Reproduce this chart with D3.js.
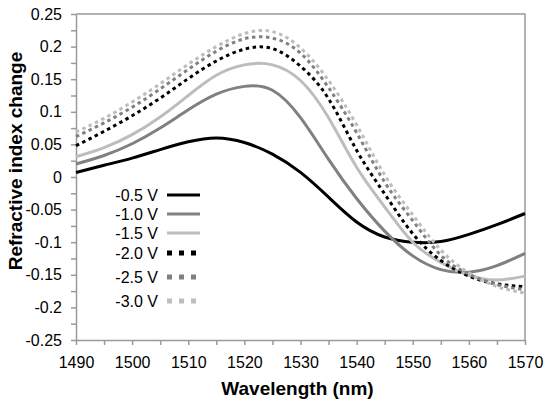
<!DOCTYPE html>
<html>
<head>
<meta charset="utf-8">
<script src="https://cdn.jsdelivr.net/npm/d3@7"></script>
<style>
  html, body { margin: 0; padding: 0; background: #fff; overflow: hidden; }
  svg { display: block; font-family: "Liberation Sans", Arial, sans-serif; }
</style>
</head>
<body>
<div class="div-chart"></div>
<script>
// wavelength grid (nm)
const wavelengths = [1490, 1495, 1500, 1505, 1510, 1515, 1520, 1525, 1530, 1535, 1540, 1545, 1550, 1555, 1560, 1565, 1570];

// refractive index change per bias voltage
const v05 = [0.007, 0.018, 0.029, 0.042, 0.054, 0.060, 0.053, 0.035, 0.007, -0.031, -0.069, -0.092, -0.100, -0.099, -0.088, -0.073, -0.056];
const v10 = [0.020, 0.033, 0.051, 0.075, 0.103, 0.127, 0.139, 0.133, 0.091, 0.027, -0.033, -0.083, -0.121, -0.142, -0.146, -0.136, -0.117];
const v15 = [0.031, 0.045, 0.065, 0.092, 0.125, 0.156, 0.172, 0.172, 0.148, 0.091, 0.015, -0.046, -0.100, -0.131, -0.151, -0.158, -0.152];
const v20 = [0.048, 0.070, 0.094, 0.121, 0.151, 0.178, 0.196, 0.197, 0.170, 0.120, 0.041, -0.026, -0.087, -0.128, -0.152, -0.164, -0.168];
const v25 = [0.062, 0.083, 0.107, 0.135, 0.165, 0.193, 0.212, 0.213, 0.190, 0.137, 0.068, -0.008, -0.067, -0.120, -0.149, -0.165, -0.173];
const v30 = [0.069, 0.090, 0.115, 0.143, 0.173, 0.200, 0.220, 0.223, 0.198, 0.148, 0.080, 0.003, -0.058, -0.112, -0.147, -0.168, -0.178];

const seriesNames = ["-0.5 V", "-1.0 V", "-1.5 V", "-2.0 V", "-2.5 V", "-3.0 V"];
const seriesValues = [v05, v10, v15, v20, v25, v30];
const seriesColors = ["#000000", "#808080", "#bdbdbd", "#000000", "#808080", "#bdbdbd"];
const seriesDotted = [false, false, false, true, true, true];

const xTicks = [1490, 1500, 1510, 1520, 1530, 1540, 1550, 1560, 1570];
const yTicks = [0.25, 0.2, 0.15, 0.1, 0.05, 0, -0.05, -0.1, -0.15, -0.2, -0.25];

const width = 546, height = 408;
const margin = {top: 14, right: 21, bottom: 68, left: 76};
const innerWidth = width - margin.left - margin.right;
const innerHeight = height - margin.top - margin.bottom;

const svg = d3.select('.div-chart')
    .append('svg')
    .attr('width', width)
    .attr('height', height);

const g = svg.append('g')
    .attr('transform', `translate(${margin.left},${margin.top})`);

const xScale = d3.scaleLinear().domain([1490, 1570]).range([0, innerWidth]);
const yScale = d3.scaleLinear().domain([-0.25, 0.25]).range([innerHeight, 0]);

const axisColor = '#9a9a9a';

// frame (top + right)
g.append('path')
    .attr('d', `M0,0H${innerWidth}V${innerHeight}`)
    .attr('fill', 'none')
    .attr('stroke', axisColor)
    .attr('stroke-width', 1.5);

// minor ticks
const xMinor = xTicks.slice(0, -1).map(d => d + 5);
const yMinor = yTicks.slice(0, -1).map(d => +(d - 0.025).toFixed(3));

g.append('g')
    .attr('transform', `translate(0,${innerHeight})`)
    .call(d3.axisBottom(xScale).tickValues(xMinor).tickSize(5).tickFormat(''))
    .call(a => a.select('.domain').remove());
g.append('g')
    .call(d3.axisLeft(yScale).tickValues(yMinor).tickSize(5).tickFormat(''))
    .call(a => a.select('.domain').remove());

// x axis
g.append('g')
    .attr('transform', `translate(0,${innerHeight})`)
    .call(d3.axisBottom(xScale).tickValues(xTicks).tickSize(5).tickSizeOuter(0).tickPadding(12).tickFormat(d => String(d)));

// y axis
g.append('g')
    .call(d3.axisLeft(yScale).tickValues(yTicks).tickSize(5).tickSizeOuter(0).tickPadding(9).tickFormat(d => String(+d.toFixed(2))));

g.selectAll('.tick line, .domain')
    .attr('stroke', axisColor)
    .attr('stroke-width', 1.5);
g.selectAll('.tick text')
    .attr('font-size', 16)
    .attr('font-family', '"Liberation Sans", Arial, sans-serif')
    .attr('fill', '#000');

// curves
const line = d3.line()
    .x((d, i) => xScale(wavelengths[i]))
    .y(d => yScale(d))
    .curve(d3.curveNatural);

g.selectAll('.curve')
    .data(seriesValues)
    .enter().append('path')
    .attr('class', 'curve')
    .attr('d', d => line(d))
    .attr('fill', 'none')
    .attr('stroke', (d, i) => seriesColors[i])
    .attr('stroke-width', 3)
    .attr('stroke-dasharray', (d, i) => seriesDotted[i] ? '3.5,3.5' : null);

// legend
const legendY = [195, 214, 233, 253, 277, 301];
const legend = svg.append('g');
seriesNames.forEach((name, i) => {
    legend.append('text')
        .attr('x', 158)
        .attr('y', legendY[i])
        .attr('dy', '0.35em')
        .attr('text-anchor', 'end')
        .attr('font-size', 16)
        .text(name);
    legend.append('line')
        .attr('x1', 167).attr('x2', 200)
        .attr('y1', legendY[i]).attr('y2', legendY[i])
        .attr('stroke', seriesColors[i])
        .attr('stroke-width', seriesDotted[i] ? 5 : 3)
        .attr('stroke-dasharray', seriesDotted[i] ? '5,7' : null);
});

// axis titles
svg.append('text')
    .attr('x', margin.left + innerWidth / 2 - 3)
    .attr('y', 395)
    .attr('text-anchor', 'middle')
    .attr('font-size', 19)
    .attr('font-weight', 'bold')
    .text('Wavelength (nm)');

svg.append('text')
    .attr('transform', 'translate(22,161) rotate(-90)')
    .attr('text-anchor', 'middle')
    .attr('font-size', 19)
    .attr('font-weight', 'bold')
    .text('Refractive index change');
</script>
</body>
</html>
